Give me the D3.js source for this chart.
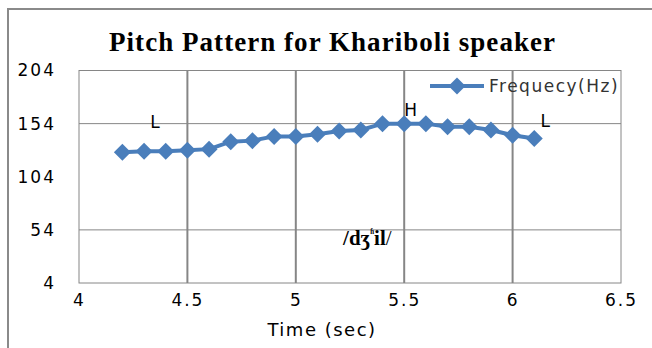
<!DOCTYPE html>
<html>
<head>
<meta charset="utf-8">
<script src="https://cdn.jsdelivr.net/npm/d3@7"></script>
<style>
body { margin:0; background:#fff; }
</style>
</head>
<body>
<div id="graph"></div>
<script>
var times = [4.2,4.3,4.4,4.5,4.6,4.7,4.8,4.9,5.0,5.1,5.2,5.3,5.4,5.5,5.6,5.7,5.8,5.9,6.0,6.1];
var freqs = [127,128,128,129,130,137,138,142,142,144,147,148,154,154,154,151,151,148,143,140];
var xTicks = [4,4.5,5,5.5,6,6.5];
var yTicks = [4,54,104,154,204];
var yGrid = [54,154];
var marks = [{t:"L",x:4.35,y:150},{t:"H",x:5.53,y:161},{t:"L",x:6.15,y:151}];

var data = times.map(function(t,i){ return {x:t, y:freqs[i]}; });

var svg = d3.select("#graph").append("svg")
	.attr("width",652)
	.attr("height",348);

var x = d3.scaleLinear().domain([4,6.5]).range([79,621]);
var y = d3.scaleLinear().domain([4,204]).range([283,70.5]);

// chart frame
svg.append("path")
	.attr("d","M8,360 L8,9 L660,9")
	.attr("fill","none")
	.attr("stroke","#8a8a8a")
	.attr("stroke-width",2);

svg.append("text")
	.attr("x",332)
	.attr("y",51)
	.attr("text-anchor","middle")
	.attr("font-family","Liberation Serif")
	.attr("font-weight","bold")
	.attr("font-size",27)
	.attr("textLength",446)
	.text("Pitch Pattern for Khariboli speaker");

// grid
svg.selectAll("line.hg")
	.data(yGrid)
	.enter()
		.append("line")
		.attr("x1",x(4)).attr("x2",x(6.5))
		.attr("y1",function(d){return y(d);}).attr("y2",function(d){return y(d);})
		.attr("stroke","#868686").attr("stroke-width",1);

svg.selectAll("line.vg")
	.data(xTicks.slice(1,-1))
	.enter()
		.append("line")
		.attr("y1",y(4)).attr("y2",y(204))
		.attr("x1",function(d){return x(d);}).attr("x2",function(d){return x(d);})
		.attr("stroke","#868686").attr("stroke-width",2);

svg.append("rect")
	.attr("x",x(4)).attr("y",y(204))
	.attr("width",x(6.5)-x(4)).attr("height",y(4)-y(204))
	.attr("fill","none").attr("stroke","#868686").attr("stroke-width",1);

// axes (labels only)
var yAxis = svg.append("g")
	.attr("transform","translate(56,0)")
	.call(d3.axisLeft(y).tickValues(yTicks).tickSize(0).tickPadding(0).tickFormat(d3.format("d")));
var xAxis = svg.append("g")
	.attr("transform","translate(0,294)")
	.call(d3.axisBottom(x).tickValues(xTicks).tickSize(0).tickPadding(0).tickFormat(function(d){return d;}));
svg.selectAll(".domain").remove();
svg.selectAll(".tick text")
	.attr("font-family","DejaVu Sans")
	.attr("font-size",17)
	.attr("letter-spacing",2)
	.attr("fill","#000");
xAxis.selectAll(".tick text").attr("dy","0.71em");

svg.append("text")
	.attr("x",322)
	.attr("y",336)
	.attr("text-anchor","middle")
	.attr("font-family","DejaVu Sans")
	.attr("font-size",18)
	.attr("letter-spacing",1.5)
	.text("Time (sec)");

// series
var line = d3.line()
	.x(function(d){return x(d.x);})
	.y(function(d){return y(d.y);});

svg.append("path")
	.datum(data)
	.attr("d",line)
	.attr("fill","none")
	.attr("stroke","#4A7EBB")
	.attr("stroke-width",4);

var diamond = "M0,-8.5L8.5,0L0,8.5L-8.5,0Z";
svg.selectAll("path.pt")
	.data(data)
	.enter()
		.append("path")
		.attr("d",diamond)
		.attr("transform",function(d){return "translate("+x(d.x)+","+y(d.y)+")";})
		.attr("fill","#4A7EBB");

svg.selectAll("text.mk")
	.data(marks)
	.enter()
		.append("text")
		.attr("x",function(d){return x(d.x);})
		.attr("y",function(d){return y(d.y);})
		.attr("text-anchor","middle")
		.attr("font-family","DejaVu Sans")
		.attr("font-size",17)
		.text(function(d){return d.t;});

// transcription
var ipa = svg.append("text")
	.attr("x",x(5.33))
	.attr("y",y(40))
	.attr("text-anchor","middle")
	.attr("font-family","Liberation Serif")
	.attr("font-weight","bold")
	.attr("font-size",21);
ipa.append("tspan").text("/dʒ");
ipa.append("tspan").attr("font-size",12).attr("dy",-8).text("ʱ");
ipa.append("tspan").attr("dy",8).text("il");
ipa.append("tspan").attr("font-weight","normal").text("/");

// legend
svg.append("line")
	.attr("x1",430).attr("x2",484).attr("y1",86).attr("y2",86)
	.attr("stroke","#4A7EBB").attr("stroke-width",4);
svg.append("path")
	.attr("d",diamond)
	.attr("transform","translate(457,86)")
	.attr("fill","#4A7EBB");
svg.append("text")
	.attr("x",489)
	.attr("y",92)
	.attr("font-family","DejaVu Sans")
	.attr("font-size",17)
	.attr("letter-spacing",1.5)
	.attr("fill","#333")
	.text("Frequecy(Hz)");
</script>
</body>
</html>
